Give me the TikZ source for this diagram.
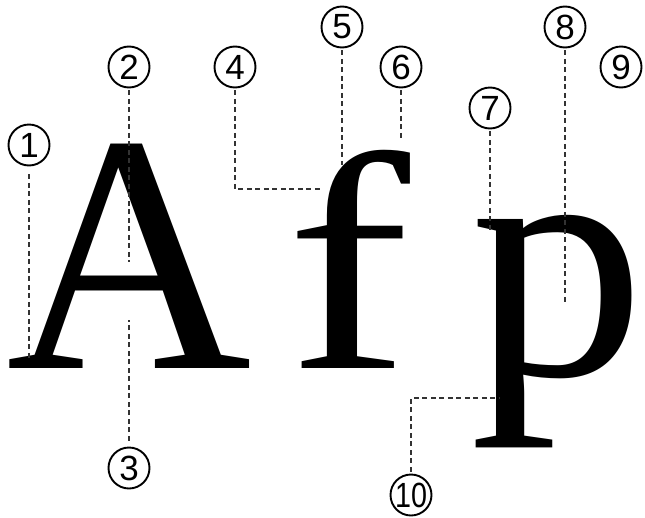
\documentclass[tikz,border=0pt]{standalone}
\usepackage{fontspec}
\setmainfont{Liberation Serif}
\newfontfamily\tagfont{Liberation Sans}
\usetikzlibrary{positioning}

\begin{document}
\begin{tikzpicture}[
  x=1pt,y=-1pt,
  glyph/.style={inner sep=0pt,anchor=base west,font=\fontsize{340}{340}\selectfont},
  tag/.style={draw,circle,line width=1.9pt,minimum size=41pt,inner sep=0pt,
              font=\tagfont\fontsize{35}{35}\selectfont},
  leader/.style={draw=black!80,line width=1.1pt,dash pattern=on 5pt off 3.5pt,
                 shorten <=2pt}
]
  \useasboundingbox (0,0) rectangle (645,517);

  % the three letters
  \node[glyph] (capA) at (6,368) {A};
  \node[glyph,font=\fontsize{310}{310}\selectfont] (lowf) at (286,368)
    {\scalebox{1.2}[1]{f}};
  \node[glyph] (lowp) at (470,375) {\scalebox{1.03}[1]{p}};

  % numbered tags
  \node[tag] (t1) at (29,145) {1};
  \node[tag] (t2) at (129,67) {2};
  \node[tag] (t3) at (129,468) {3};
  \node[tag] (t4) at (235,67) {4};
  \node[tag] (t5) at (342,27) {5};
  \node[tag] (t6) at (401,67) {6};
  \node[tag] (t7) at (490,108) {7};
  \node[tag] (t8) at (565,27) {8};
  \node[tag] (t9) at (621,67) {9};
  \node[tag] (t10) at (411,495) {\scalebox{0.82}[1]{10}};

  % where the leaders end
  \coordinate (serifA) at (29,360);
  \coordinate (crossA) at (129,262);
  \coordinate (counterA) at (129,320);
  \coordinate (stemf) at (322,189);
  \coordinate (neckf) at (342,165);
  \coordinate (termf) at (401,138);
  \coordinate (spurp) at (490,230);
  \coordinate (bowlp) at (565,302);
  \coordinate (stemp) at (500,398);

  \draw[leader,shorten <=8pt] (t1.south) -- (serifA);
  \draw[leader] (t2.south) -- (crossA);
  \draw[leader,shorten <=6pt] (t3.north) -- (counterA);
  \draw[leader] (t4.south) |- (stemf);
  \draw[leader] (t5.south) -- (neckf);
  \draw[leader] (t6.south) -- (termf);
  \draw[leader] (t7.south) -- (spurp);
  \draw[leader] (t8.south) -- (bowlp);
  \draw[leader] (t10.north) |- (stemp);
\end{tikzpicture}
\end{document}
